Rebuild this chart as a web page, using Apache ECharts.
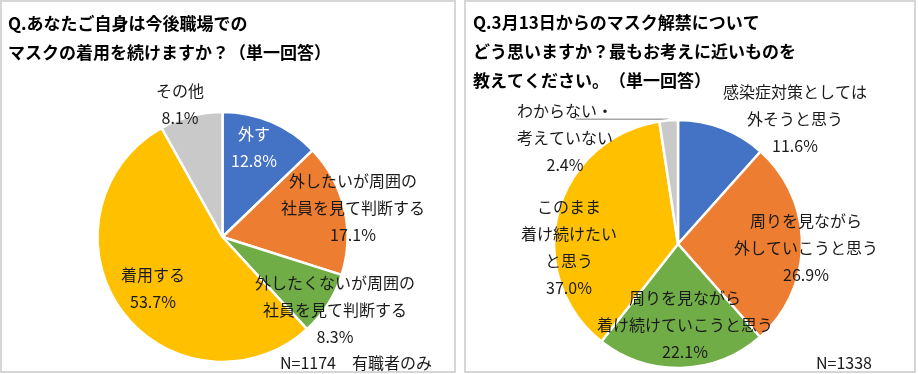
<!DOCTYPE html>
<html>
<head>
<meta charset="utf-8">
<script src="https://cdn.jsdelivr.net/npm/echarts@6/dist/echarts.min.js"></script>
<style>
html,body{margin:0;padding:0;background:#fff;}
#chart{width:918px;height:374px;}
</style>
</head>
<body>
<div id="chart"></div>
<script>
// ---- Data ----
var leftTitle = 'Q.あなたご自身は今後職場での\nマスクの着用を続けますか？（単一回答）';
var leftCategories = ['外す', '外したいが周囲の\n社員を見て判断する', '外したくないが周囲の\n社員を見て判断する', '着用する', 'その他'];
var leftValues = [12.8, 17.1, 8.3, 53.7, 8.1];
var leftNote = 'N=1174　有職者のみ';

var rightTitle = 'Q.3月13日からのマスク解禁について\nどう思いますか？最もお考えに近いものを\n教えてください。　（単一回答）';
var rightCategories = ['感染症対策としては\n外そうと思う', '周りを見ながら\n外していこうと思う', '周りを見ながら\n着け続けていこうと思う', 'このまま\n着け続けたい\nと思う', 'わからない・\n考えていない'];
var rightValues = [11.6, 26.9, 22.1, 37.0, 2.4];
var rightNote = 'N=1338';

// ---- Layout / style (kept separate from data) ----
var colors = ['#4472C4', '#ED7D31', '#70AD47', '#FFC000', '#C9C9C9'];
var leftLabelPos = [[254, 147], [353, 208], [335, 310], [153, 288], [180, 104]];
var rightLabelPos = [[795, 119], [806, 248], [685, 325], [569, 247], [565, 138]];
var FONT = '"Noto Sans CJK JP", "Noto Sans", sans-serif';

function buildData(cats, vals, seriesIdx) {
  return cats.map(function (c, i) {
    return {
      name: c,
      value: vals[i],
      itemStyle: { color: colors[i] },
      label: { color: (seriesIdx === 0 && i === 0) ? '#ffffff' : '#1a1a1a' },
      labelLine: { show: (seriesIdx === 1 && i === 4) }
    };
  });
}

function makeLayout(posArr, seriesIdx) {
  return function (params) {
    var p = posArr[params.dataIndex];
    var res = { x: p[0], y: p[1], align: 'center', verticalAlign: 'middle' };
    if (seriesIdx === 1 && params.dataIndex === 4 && params.labelLinePoints) {
      var p0 = params.labelLinePoints[0];
      res.labelLinePoints = [[p0[0], p0[1] - 1], [p0[0] - 45, p0[1] - 1], [p0[0] - 93, p0[1] - 1]];
    }
    return res;
  };
}

var labelCfg = {
  show: true,
  position: 'outside',
  fontFamily: FONT,
  fontSize: 16,
  lineHeight: 27,
  formatter: function (p) { return p.name + '\n' + p.value.toFixed(1) + '%'; }
};

var chart = echarts.init(document.getElementById('chart'), null, { renderer: 'canvas' });
chart.setOption({
  animation: false,
  backgroundColor: '#ffffff',
  textStyle: { fontFamily: FONT },
  title: [
    {
      text: leftTitle, left: 8, top: 9, padding: 0,
      textStyle: { fontFamily: FONT, fontSize: 17, fontWeight: 'bold', color: '#000', lineHeight: 29 }
    },
    {
      text: rightTitle, left: 473, top: 8, padding: 0,
      textStyle: { fontFamily: FONT, fontSize: 17, fontWeight: 'bold', color: '#000', lineHeight: 29 }
    }
  ],
  graphic: [
    { type: 'rect', shape: { x: 1, y: 1, width: 454, height: 371 }, style: { fill: 'none', stroke: '#D6D6D6', lineWidth: 2 }, silent: true },
    { type: 'rect', shape: { x: 465, y: 1, width: 450, height: 371 }, style: { fill: 'none', stroke: '#D6D6D6', lineWidth: 2 }, silent: true },
    { type: 'text', x: 280, y: 363, style: { text: leftNote, font: '16px ' + FONT, fill: '#1a1a1a', textVerticalAlign: 'middle' } },
    { type: 'text', x: 816, y: 363, style: { text: rightNote, font: '16px ' + FONT, fill: '#1a1a1a', textVerticalAlign: 'middle' } }
  ],
  series: [
    {
      type: 'pie',
      center: [222.5, 237],
      radius: [0, 125],
      startAngle: 90,
      clockwise: true,
      avoidLabelOverlap: false,
      itemStyle: { borderColor: '#ffffff', borderWidth: 2.5 },
      label: labelCfg,
      labelLine: { show: false },
      labelLayout: makeLayout(leftLabelPos, 0),
      emphasis: { disabled: true },
      data: buildData(leftCategories, leftValues, 0)
    },
    {
      type: 'pie',
      center: [678, 244],
      radius: [0, 124],
      startAngle: 90,
      clockwise: true,
      avoidLabelOverlap: false,
      itemStyle: { borderColor: '#ffffff', borderWidth: 2.5 },
      label: labelCfg,
      labelLine: { show: false, length: 5, length2: 5, lineStyle: { color: '#A6A6A6', width: 1.5 } },
      labelLayout: makeLayout(rightLabelPos, 1),
      emphasis: { disabled: true },
      data: buildData(rightCategories, rightValues, 1)
    }
  ]
});
</script>
</body>
</html>
